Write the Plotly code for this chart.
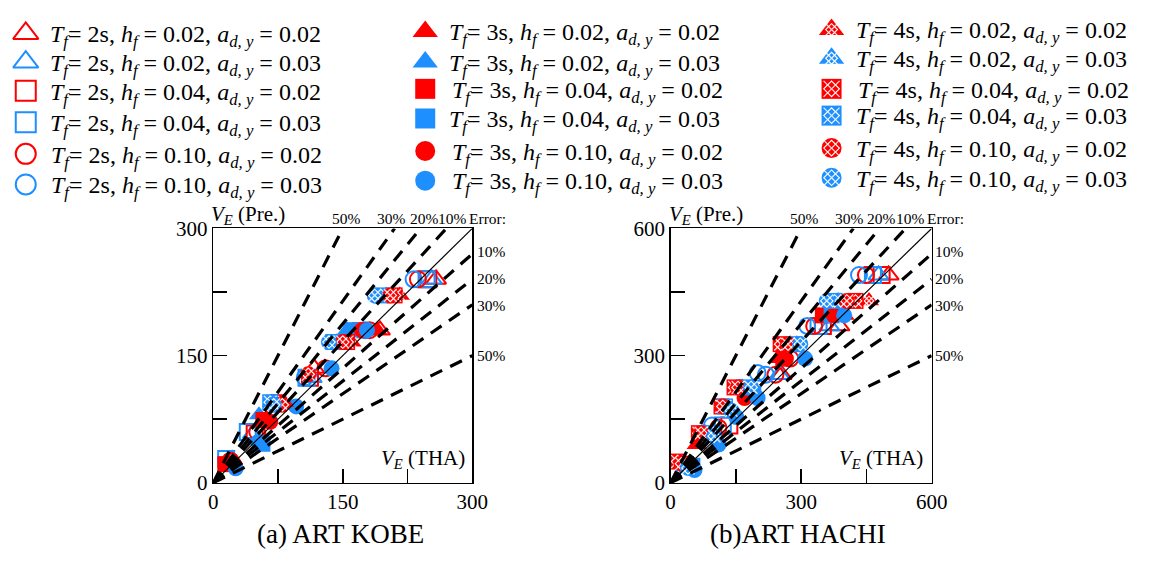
import plotly.graph_objects as go

# ---------------- data ----------------
T_VALUES = ["2s", "3s", "4s"]
H_VALUES = ["0.02", "0.04", "0.10"]
A_VALUES = ["0.02", "0.03"]
ERRORS = [0.10, 0.20, 0.30, 0.50]
ERROR_LABELS = ["10%", "20%", "30%", "50%"]

# series order: for T in 2s,3s,4s ; for h in 0.02,0.04,0.10 ; for a in 0.02,0.03
KOBE_X = [
    [258, 193, 117, 22], [253, 114, 46], [249, 112, 48], [247, 108, 40, 15],
    [237, 181, 130, 51, 20], [232, 176, 106],
    [190, 62, 18], [155, 53], [170, 58, 14], [160, 57], [172, 66, 24], [178, 137, 96, 52, 26],
    [216, 160, 82], [200, 143, 68], [210, 155, 75], [194, 139, 66], [205, 150, 80, 110], [187, 134, 70],
]
KOBE_Y = [
    [240, 180, 135, 27], [240, 124, 58], [240, 124, 58], [240, 124, 60, 28],
    [240, 180, 135, 60, 26], [240, 180, 124],
    [180, 76, 24], [180, 80], [180, 74, 22], [180, 46], [180, 72, 22], [180, 135, 90, 48, 17],
    [221, 166, 95], [221, 166, 95], [221, 166, 95], [221, 166, 95], [221, 166, 92, 128], [221, 166, 92],
]
HACHI_X = [
    [501, 388, 255], [478, 365, 250], [485, 350, 135], [465, 340, 120],
    [449, 330, 275, 241, 110], [433, 314, 200, 219, 95],
    [400, 250, 60], [390, 180, 45], [350, 259, 30], [370, 190, 50], [375, 265, 170], [399, 309, 200, 151, 110, 55],
    [456, 275, 165, 80], [385, 290, 160, 75], [425, 253, 147, 117, 65, 16], [377, 285, 170, 125, 85, 30],
    [405, 270, 155, 120, 70, 25], [359, 298, 185, 140, 100, 40],
]
HACHI_Y = [
    [490, 370, 255], [490, 370, 255], [490, 370, 135], [490, 370, 135],
    [490, 370, 293, 255, 130], [490, 370, 259, 255, 135],
    [395, 293, 90], [395, 200, 40], [395, 293, 45], [395, 210, 40], [395, 293, 200], [395, 293, 200, 155, 90, 30],
    [429, 327, 225, 117], [429, 327, 225, 117], [429, 327, 225, 180, 117, 50], [429, 327, 225, 180, 117, 40],
    [429, 327, 225, 180, 117, 45], [429, 327, 225, 170, 110, 35],
]

# ---------------- style ----------------
PAGE_W, PAGE_H = 1150, 563
BODY_MARGIN = 8
W, H = PAGE_W - 2 * BODY_MARGIN, PAGE_H - 2 * BODY_MARGIN
RED = "#FF0000"
BLUE = "#1E8FFF"
FONT = "Liberation Serif"
SYMS = ["triangle-up", "square", "circle"]


def fx(px):
    return (px - BODY_MARGIN) / W


def fy(py):
    return 1 - (py - BODY_MARGIN) / H


def marker_traces(xs, ys, s, xa, ya, size):
    t = s // 6
    h = (s % 6) // 2
    a = s % 2
    color = RED if a == 0 else BLUE
    sym = SYMS[h]
    sz = size * (1.1 if h == 0 else 1.0)
    out = []
    if t == 0:
        out.append(go.Scatter(x=xs, y=ys, xaxis=xa, yaxis=ya, mode="markers", cliponaxis=False,
                              marker=dict(symbol=sym + "-open", size=sz, color=color,
                                          line=dict(color=color, width=2)),
                              showlegend=False, hoverinfo="skip"))
    else:
        out.append(go.Scatter(x=xs, y=ys, xaxis=xa, yaxis=ya, mode="markers", cliponaxis=False,
                              marker=dict(symbol=sym, size=sz, color=color, line=dict(width=0)),
                              showlegend=False, hoverinfo="skip"))
        if t == 2:
            psz = sz * (0.55 if h == 0 else 0.8)
            out.append(go.Scatter(x=xs, y=ys, xaxis=xa, yaxis=ya, mode="markers", cliponaxis=False,
                                  marker=dict(symbol="x-thin", size=psz, color="white",
                                              line=dict(color="rgba(255,255,255,0.85)", width=1.3)),
                                  showlegend=False, hoverinfo="skip"))
            out.append(go.Scatter(x=xs, y=ys, xaxis=xa, yaxis=ya, mode="markers", cliponaxis=False,
                                  marker=dict(symbol="diamond-open", size=psz * 0.75, color="white",
                                              line=dict(color="rgba(255,255,255,0.85)", width=1.1)),
                                  showlegend=False, hoverinfo="skip"))
    return out


fig = go.Figure()

# ---------------- plots ----------------
panels = [
    dict(X=KOBE_X, Y=KOBE_Y, xa="x", ya="y", vmax=300, off=0),
    dict(X=HACHI_X, Y=HACHI_Y, xa="x2", ya="y2", vmax=600, off=466),
]

for p in panels:
    for s in range(18):
        for tr in marker_traces(p["X"][s], p["Y"][s], s, p["xa"], p["ya"], 16):
            fig.add_trace(tr)
    vmax = p["vmax"]
    # error lines (dashed), drawn over markers
    for e in ERRORS:
        for k in (1 / (1 - e), 1 - e):
            if k > 1:
                xe, ye = vmax / k, vmax
            else:
                xe, ye = vmax, vmax * k
            fig.add_trace(go.Scatter(x=[0, xe], y=[0, ye], xaxis=p["xa"], yaxis=p["ya"], mode="lines",
                                     line=dict(color="black", width=3.2, dash="13px,9px"),
                                     showlegend=False, hoverinfo="skip"))
    fig.add_trace(go.Scatter(x=[0, vmax], y=[0, vmax], xaxis=p["xa"], yaxis=p["ya"], mode="lines",
                             line=dict(color="black", width=1.2), showlegend=False, hoverinfo="skip"))

# ---------------- manual legend ----------------
LEG_COLS = [
    dict(mx=21, tx=[49, 49, 49, 49, 50, 50], my=[22, 52, 82, 115, 148, 180]),
    dict(mx=428, tx=[455, 455, 458, 455, 458, 458], my=[20, 52, 80, 111, 145, 176]),
    dict(mx=842, tx=[870, 870, 872, 870, 870, 870], my=[18, 48, 80, 108, 142, 173]),
]
annotations = []
for t in range(3):
    col = LEG_COLS[t]
    for r in range(6):
        s = t * 6 + r
        h = r // 2
        a = r % 2
        for tr in marker_traces([col["mx"]], [col["my"][r]], s, "x3", "y3", 20):
            fig.add_trace(tr)
        txt = (f"<i>T</i><sub><i>f</i></sub>= {T_VALUES[t]}, <i>h</i><sub><i>f</i></sub> = {H_VALUES[h]}, "
               f"<i>a</i><sub><i>d, y</i></sub> = {A_VALUES[a]}")
        annotations.append(dict(x=fx(col["tx"][r] - 5), y=fy(col["my"][r] + 3), xref="paper", yref="paper",
                                text=txt, showarrow=False, xanchor="left", yanchor="middle",
                                font=dict(family=FONT, size=24, color="black")))

# ---------------- panel annotations ----------------
for p, title, tcx in [(panels[0], "(a) ART KOBE", 342), (panels[1], "(b)ART HACHI", 808)]:
    o = p["off"]
    annotations.append(dict(x=fx(tcx), y=fy(546), xref="paper", yref="paper", text=title, showarrow=False,
                            xanchor="center", yanchor="middle", font=dict(family=FONT, size=27, color="black")))
    annotations.append(dict(x=fx(208 + o), y=fy(212), xref="paper", yref="paper",
                            text="<i>V</i><sub><i>E</i></sub> (Pre.)", showarrow=False,
                            xanchor="left", yanchor="middle", font=dict(family=FONT, size=21, color="black")))
    annotations.append(dict(x=fx(471 + o), y=fy(467), xref="paper", yref="paper",
                            text="<i>V</i><sub><i>E</i></sub> (THA)", showarrow=False,
                            xanchor="right", yanchor="middle", font=dict(family=FONT, size=21, color="black")))
    annotations.append(dict(x=fx(471 + o), y=fy(216), xref="paper", yref="paper", text="Error:",
                            showarrow=False, xanchor="left", yanchor="middle",
                            font=dict(family=FONT, size=15.5, color="black")))
    for lab, cx in zip(ERROR_LABELS, [456, 427, 394, 348]):
        annotations.append(dict(x=fx(cx + o), y=fy(216), xref="paper", yref="paper", text=lab,
                                showarrow=False, xanchor="center", yanchor="middle",
                                font=dict(family=FONT, size=15.5, color="black")))
    for lab, cy in zip(ERROR_LABELS, [250, 278, 307, 359]):
        annotations.append(dict(x=fx(479 + o), y=fy(cy), xref="paper", yref="paper", text=lab,
                                showarrow=False, xanchor="left", yanchor="middle",
                                font=dict(family=FONT, size=15.5, color="black")))


def axis_common(vmax, dom):
    return dict(domain=dom, range=[0, vmax], showline=True, mirror=True, linecolor="black", linewidth=1.5,
                ticks="inside", ticklen=14, tickwidth=1.5, tickcolor="black",
                tickvals=[0, vmax / 4, vmax / 2, 3 * vmax / 4, vmax],
                ticktext=["0", "", str(vmax // 2), "", str(vmax)],
                tickfont=dict(family=FONT, size=21, color="black"),
                showgrid=False, zeroline=False, fixedrange=True)


fig.update_layout(
    width=W, height=H,
    margin=dict(l=0, r=0, t=0, b=0),
    paper_bgcolor="white", plot_bgcolor="rgba(0,0,0,0)",
    showlegend=False,
    xaxis=dict(**axis_common(300, [fx(212), fx(476)]), anchor="y"),
    yaxis=dict(**axis_common(300, [fy(492), fy(226)]), anchor="x"),
    xaxis2=dict(**axis_common(600, [fx(678), fx(944)]), anchor="y2"),
    yaxis2=dict(**axis_common(600, [fy(492), fy(226)]), anchor="x2"),
    xaxis3=dict(domain=[0, 1], range=[BODY_MARGIN, BODY_MARGIN + W], visible=False, anchor="y3", fixedrange=True),
    yaxis3=dict(domain=[0, 1], range=[BODY_MARGIN + H, BODY_MARGIN], visible=False, anchor="x3", fixedrange=True),
    annotations=annotations,
)

fig.write_html("out.html", config=dict(displayModeBar=False, staticPlot=True))
